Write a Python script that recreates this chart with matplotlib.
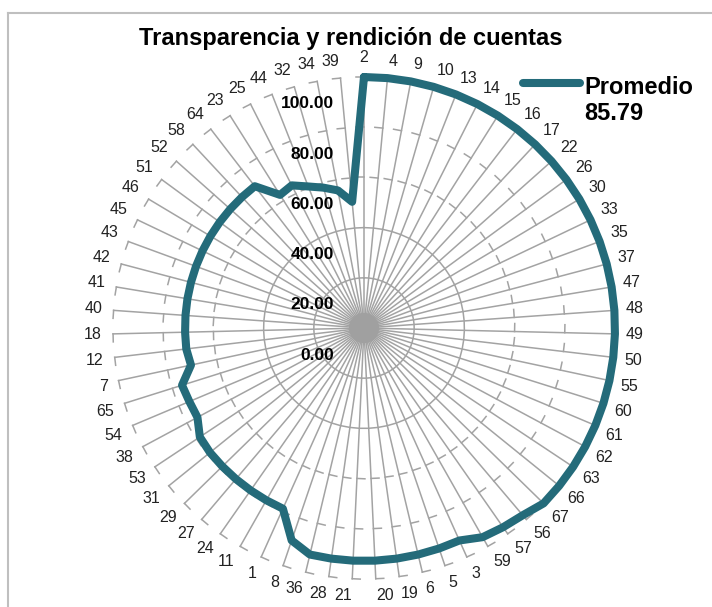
import numpy as np
import matplotlib
matplotlib.use('Agg')
import matplotlib.pyplot as plt
from matplotlib.lines import Line2D

plt.rcParams['font.family'] = ['Liberation Sans', 'DejaVu Sans']

title = 'Transparencia y rendición de cuentas'
series_name = 'Promedio'
series_avg = '85.79'

categories = ['2', '4', '9', '10', '13', '14', '15', '16', '17', '22', '26', '30', '33',
              '35', '37', '47', '48', '49', '50', '55', '60', '61', '62', '63', '66', '67',
              '56', '57', '59', '3', '5', '6', '19', '20', '21', '28', '36', '8', '1', '11',
              '24', '27', '29', '31', '53', '38', '54', '65', '7', '12', '18', '40', '41',
              '42', '43', '45', '46', '51', '52', '58', '64', '23', '25', '44', '32', '34', '39']

values = [100.0, 100.0, 100.0, 100.0, 100.0, 100.0, 100.0, 100.0, 100.0, 100.0,
          100.0, 100.0, 100.0, 100.0, 100.0, 100.0, 100.0, 100.0, 100.0, 100.0,
          100.0, 100.0, 100.0, 100.0, 100.0, 100.0,
          97.8, 96.8, 95.8,
          92.8, 92.8, 92.8, 92.8, 92.8, 92.8, 92.8, 92.8,
          89.4,
          78.9, 78.9, 78.9, 78.9, 78.9, 78.9, 78.5,
          75.3, 75.5, 76.0,
          70.5, 71.3, 71.3, 71.3, 71.3, 71.3, 71.3, 71.3, 71.3, 71.3, 71.3, 71.3, 71.3,
          62.7, 63.7, 60.6, 58.2, 55.8, 50.5]

ring_values = [20, 40]
tick_values = [60, 80, 100]
axis_labels = [0, 20, 40, 60, 80, 100]

W, H = 712, 607
fig = plt.figure(figsize=(W / 100, H / 100), dpi=100)
cx, cy, R = 364, 328, 251
ax = fig.add_axes([(cx - R) / W, (H - cy - R) / H, 2 * R / W, 2 * R / H], projection='polar')
ax.set_theta_zero_location('N')
ax.set_theta_direction(-1)
ax.set_ylim(0, 100)
ax.axis('off')

n = len(categories)
theta = np.deg2rad(np.arange(n) * 360.0 / n)
gc = '#A3A3A3'
glw = 1.1

# spokes
for t in theta:
    ax.plot([t, t], [0, 100], color=gc, lw=glw, zorder=1, clip_on=False)

# dense hub where the spokes meet
hub = np.linspace(0, 2 * np.pi, 200)
ax.fill(hub, np.full_like(hub, 6.0), color='#A0A0A0', lw=0, zorder=1)

# rings
tc = np.append(theta, theta[0])
for v in ring_values:
    ax.plot(tc, [v] * (n + 1), color=gc, lw=glw, zorder=1, clip_on=False)

# ticks on spokes (counter-clockwise side)
px_per_unit = R / 100.0
L = 8 / px_per_unit
for t in theta:
    for v in tick_values:
        px, py = v * np.sin(t), v * np.cos(t)
        qx, qy = px - L * np.cos(t), py + L * np.sin(t)
        tq = np.arctan2(qx, qy)
        rq = np.hypot(qx, qy)
        ax.plot([t, tq], [v, rq], color=gc, lw=glw, zorder=1, clip_on=False)

# data polygon
line_color = '#246B7A'
ax.plot(np.append(theta, theta[0]), np.append(values, values[0]), color=line_color,
        lw=5.8, solid_joinstyle='round', solid_capstyle='round', zorder=5, clip_on=False)

# category labels
gap = 11
h = 12
for t, lab in zip(theta, categories):
    s, c = np.sin(t), np.cos(t)
    if s > 1e-6:
        ha = 'left'
    elif s < -1e-6:
        ha = 'right'
    else:
        ha = 'center'
    dx = gap * s
    dy = gap * c + np.clip(2.5 * c, -1, 1) * h / 2
    if abs(s) < 1e-6 and c > 0:
        dy += 3
    ax.annotate(lab, xy=(t, 100), xytext=(dx, dy), textcoords='offset pixels',
                ha=ha, va='center', fontsize=11.5, color='#222222', zorder=6,
                annotation_clip=False)

# value axis labels
for v in axis_labels:
    ax.annotate(f'{v:.2f}', xy=(0, v), xytext=(-30, -27), textcoords='offset pixels',
                ha='right', va='center', fontsize=12.5, fontweight='bold', color='black',
                zorder=6, annotation_clip=False)

# title
fig.text(351 / W, 1 - 38 / H, title, ha='center', va='center', fontsize=17,
         fontweight='bold', color='black')

# legend
fig.add_artist(Line2D([523 / W, 580 / W], [1 - 83 / H, 1 - 83 / H], lw=5.8,
                      color=line_color, solid_capstyle='round'))
fig.text(584 / W, 1 - 87 / H, series_name, ha='left', va='center', fontsize=17,
         fontweight='bold', color='black')
fig.text(584 / W, 1 - 113 / H, series_avg, ha='left', va='center', fontsize=17,
         fontweight='bold', color='black')

# frame
fig.add_artist(Line2D([8 / W, 8 / W], [1 - 13 / H, -0.1], color='#BFBFBF', lw=1.5))
fig.add_artist(Line2D([8 / W, 1.1], [1 - 13 / H, 1 - 13 / H], color='#BFBFBF', lw=1.5))

fig.savefig('out.png', dpi=100)
